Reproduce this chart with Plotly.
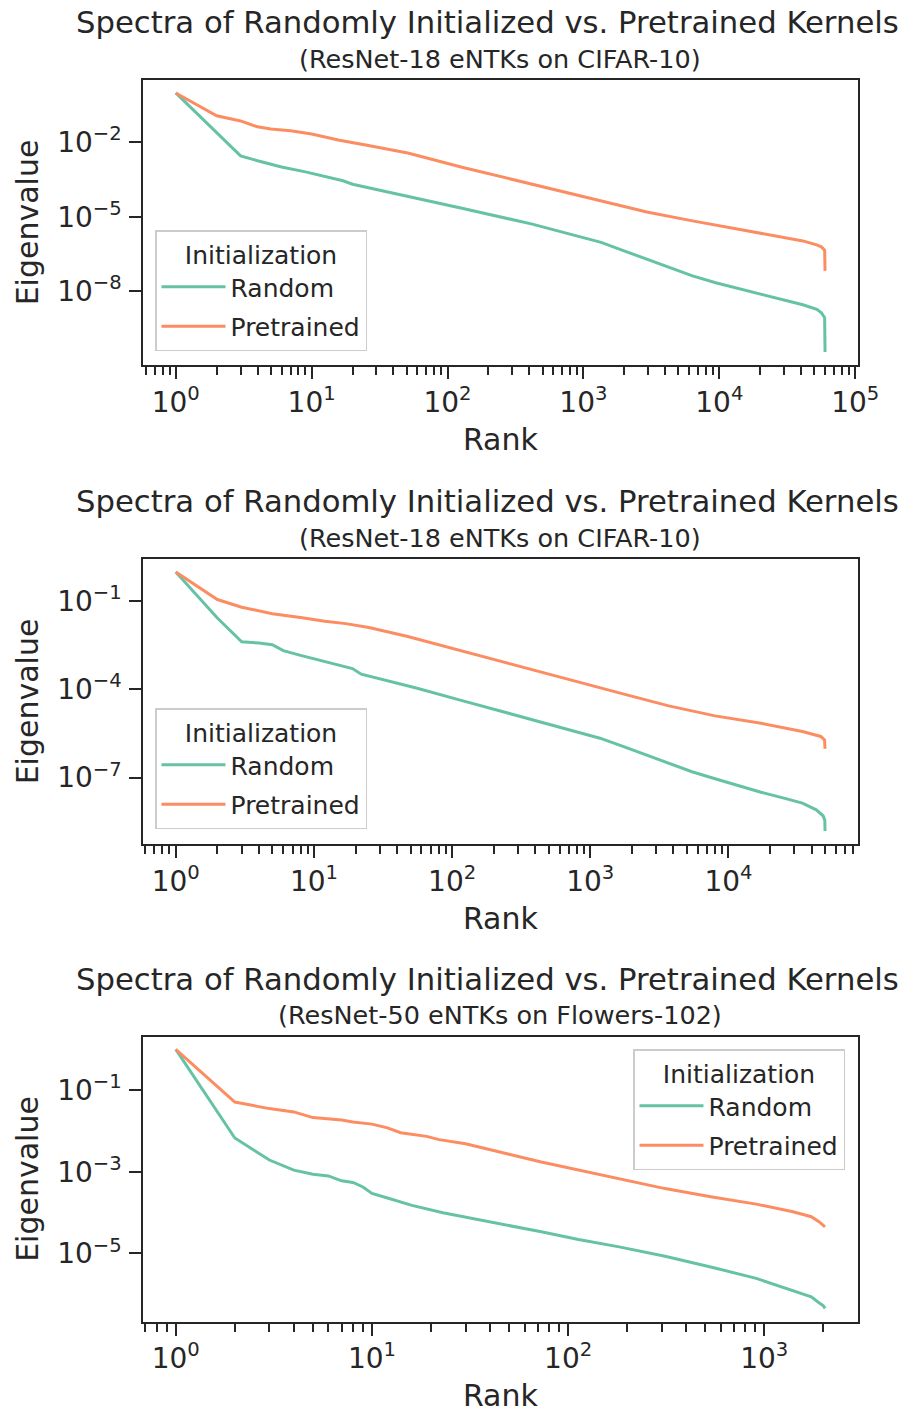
import math
import plotly.graph_objects as go

# ---------------- data ----------------
# Panel 1: ResNet-18 eNTKs on CIFAR-10 (60k)
p1_rank_random = [1, 2, 3, 4, 6, 9, 11, 17, 20, 47, 130, 420, 910, 1350, 1990, 2930, 4320, 6350, 9410,
                  13800, 20500, 30000, 41200, 52200, 56400, 59600, 60000]
p1_eig_random = [1.0, 2.51e-2, 2.88e-3, 1.82e-3, 1.02e-3, 6.46e-4, 4.90e-4, 2.82e-4, 2.04e-4, 7.41e-5,
                 2.14e-5, 5.01e-6, 1.66e-6, 9.12e-7, 4.17e-7, 1.91e-7, 8.91e-8, 4.07e-8, 2.14e-8,
                 1.26e-8, 7.41e-9, 4.37e-9, 2.75e-9, 1.82e-9, 1.32e-9, 8.32e-10, 3.39e-11]
p1_rank_pretrained = [1, 2, 3, 4, 5, 7, 10, 16, 25, 51, 130, 420, 1350, 2930, 6350, 13800, 30000, 41200,
                      52000, 56400, 59600, 60000]
p1_eig_pretrained = [1.0, 1.19e-1, 7.41e-2, 4.27e-2, 3.47e-2, 2.95e-2, 2.19e-2, 1.23e-2, 7.94e-3, 3.72e-3,
                     9.77e-4, 2.04e-4, 4.37e-5, 1.55e-5, 6.76e-6, 3.09e-6, 1.45e-6, 1.05e-6,
                     7.24e-7, 6.03e-7, 4.47e-7, 6.46e-8]

# Panel 2: ResNet-18 eNTKs on CIFAR-10 (50k)
p2_rank_random = [1, 2, 3, 4, 5, 6, 8, 10, 14, 19, 22, 30, 55, 118, 254, 546, 1175, 1725, 2525, 3700,
                  5440, 8000, 11700, 17200, 25200, 34300, 43200, 48400, 49800, 50000]
p2_eig_random = [1.0, 2.69e-2, 4.17e-3, 3.80e-3, 3.31e-3, 2.09e-3, 1.45e-3, 1.12e-3, 7.59e-4, 5.13e-4,
                 3.31e-4, 2.29e-4, 1.12e-4, 4.17e-5, 1.55e-5, 5.89e-6, 2.19e-6, 1.15e-6, 5.89e-7, 3.09e-7,
                 1.58e-7, 9.12e-8, 5.25e-8, 3.16e-8, 2.00e-8, 1.35e-8, 7.94e-9, 5.01e-9, 3.55e-9, 1.51e-9]
p2_rank_pretrained = [1, 2, 3, 5, 8, 12, 17, 25, 47, 101, 254, 800, 1725, 3700, 8000, 17200, 34300, 46600,
                      49600, 50000]
p2_eig_pretrained = [1.0, 1.15e-1, 6.31e-2, 3.80e-2, 2.82e-2, 2.09e-2, 1.74e-2, 1.29e-2, 6.46e-3, 2.45e-3,
                     7.94e-4, 1.86e-4, 7.08e-5, 2.75e-5, 1.26e-5, 7.08e-6, 3.72e-6, 2.51e-6,
                     1.91e-6, 9.55e-7]

# Panel 3: ResNet-50 eNTKs on Flowers-102
p3_rank_random = [1, 2, 3, 4, 5, 6, 7, 8, 9, 10, 12, 16, 23, 39, 46, 73, 113, 182, 312, 533, 910, 1191,
                  1400, 1556, 1736, 1878, 2000, 2040]
p3_eig_random = [1.0, 6.76e-3, 1.95e-3, 1.10e-3, 8.71e-4, 7.94e-4, 6.03e-4, 5.50e-4, 4.27e-4, 2.95e-4,
                 2.29e-4, 1.51e-4, 1.00e-4, 6.17e-5, 5.37e-5, 3.39e-5, 2.19e-5, 1.45e-5, 8.51e-6, 4.68e-6,
                 2.45e-6, 1.62e-6, 1.26e-6, 1.05e-6, 8.71e-7, 6.46e-7, 5.25e-7, 4.47e-7]
p3_rank_pretrained = [1, 2, 3, 4, 5, 6, 7, 8, 10, 12, 14, 19, 22, 30, 39, 50, 73, 113, 182, 312, 533, 910,
                      1400, 1736, 1900, 2000, 2040]
p3_eig_pretrained = [1.0, 5.13e-2, 3.55e-2, 2.95e-2, 2.14e-2, 2.00e-2, 1.86e-2, 1.66e-2, 1.48e-2, 1.20e-2,
                     9.12e-3, 7.41e-3, 6.17e-3, 4.90e-3, 3.55e-3, 2.69e-3, 1.74e-3, 1.10e-3, 6.92e-4, 3.89e-4,
                     2.45e-4, 1.62e-4, 1.05e-4, 7.94e-5, 6.03e-5, 5.01e-5, 4.47e-5]

titles = ["Spectra of Randomly Initialized vs. Pretrained Kernels"] * 3
subtitles = ["(ResNet-18 eNTKs on CIFAR-10)", "(ResNet-18 eNTKs on CIFAR-10)", "(ResNet-50 eNTKs on Flowers-102)"]
series_names = ["Random", "Pretrained"]
legend_title = "Initialization"
x_label = "Rank"
y_label = "Eigenvalue"

p1_xtick_vals = [1, 10, 100, 1000, 10000, 100000]
p1_xtick_text = ["10<sup>0</sup>", "10<sup>1</sup>", "10<sup>2</sup>", "10<sup>3</sup>", "10<sup>4</sup>", "10<sup>5</sup>"]
p2_xtick_vals = [1, 10, 100, 1000, 10000]
p2_xtick_text = ["10<sup>0</sup>", "10<sup>1</sup>", "10<sup>2</sup>", "10<sup>3</sup>", "10<sup>4</sup>"]
p3_xtick_vals = [1, 10, 100, 1000]
p3_xtick_text = ["10<sup>0</sup>", "10<sup>1</sup>", "10<sup>2</sup>", "10<sup>3</sup>"]
p1_ytick_vals = [1e-2, 1e-5, 1e-8]
p1_ytick_text = ["10<sup>\u22122</sup>", "10<sup>\u22125</sup>", "10<sup>\u22128</sup>"]
p2_ytick_vals = [1e-1, 1e-4, 1e-7]
p2_ytick_text = ["10<sup>\u22121</sup>", "10<sup>\u22124</sup>", "10<sup>\u22127</sup>"]
p3_ytick_vals = [1e-1, 1e-3, 1e-5]
p3_ytick_text = ["10<sup>\u22121</sup>", "10<sup>\u22123</sup>", "10<sup>\u22125</sup>"]

# ---------------- styling / layout ----------------
W, H = 907, 1414
INK = "#262626"
COLORS = ["#66c2a5", "#fc8d62"]
FONT = "DejaVu Sans"

PLOT_LEFT, PLOT_RIGHT = 143.3, 857.5
PANEL_TOPS = [80.0, 559.0, 1036.5]
PANEL_H = 285.0


def fx(px):
    return px / W


def fy(py):
    return 1.0 - py / H


panels = [
    dict(random=(p1_rank_random, p1_eig_random), pretrained=(p1_rank_pretrained, p1_eig_pretrained),
         xt=(p1_xtick_vals, p1_xtick_text), yt=(p1_ytick_vals, p1_ytick_text),
         legend=dict(x=fx(155), y=fy(230), xanchor="left")),
    dict(random=(p2_rank_random, p2_eig_random), pretrained=(p2_rank_pretrained, p2_eig_pretrained),
         xt=(p2_xtick_vals, p2_xtick_text), yt=(p2_ytick_vals, p2_ytick_text),
         legend=dict(x=fx(155), y=fy(708), xanchor="left")),
    dict(random=(p3_rank_random, p3_eig_random), pretrained=(p3_rank_pretrained, p3_eig_pretrained),
         xt=(p3_xtick_vals, p3_xtick_text), yt=(p3_ytick_vals, p3_ytick_text),
         legend=dict(x=fx(845), y=fy(1049), xanchor="right")),
]

fig = go.Figure()
annotations = []
layout = dict(
    width=W, height=H,
    margin=dict(l=0, r=0, t=0, b=0),
    paper_bgcolor="white", plot_bgcolor="white",
    font=dict(family=FONT, color=INK, size=25),
    showlegend=True,
)


def log_range(vals_lists):
    lo = min(math.log10(v) for vals in vals_lists for v in vals)
    hi = max(math.log10(v) for vals in vals_lists for v in vals)
    m = 0.05 * (hi - lo)
    return [lo - m, hi + m]


for i, p in enumerate(panels):
    k = i + 1
    xa = "x" if k == 1 else f"x{k}"
    ya = "y" if k == 1 else f"y{k}"
    leg = "legend" if k == 1 else f"legend{k}"
    for j, name in enumerate(series_names):
        ranks, eig = p["random"] if j == 0 else p["pretrained"]
        fig.add_trace(go.Scatter(
            x=ranks, y=eig, mode="lines", name=name,
            line=dict(color=COLORS[j], width=3),
            xaxis=xa, yaxis=ya, legend=leg, legendgroup=f"{k}-{name}",
        ))
    xr = log_range([p["random"][0], p["pretrained"][0]])
    yr = log_range([p["random"][1], p["pretrained"][1]])
    top = PANEL_TOPS[i]
    bottom = top + PANEL_H
    # minor x ticks (2..9 per decade) inside the range
    minor_vals = []
    for dec in range(math.floor(xr[0]) - 1, math.ceil(xr[1]) + 1):
        for m in range(2, 10):
            v = m * 10 ** dec
            if xr[0] <= math.log10(v) <= xr[1]:
                minor_vals.append(v)
    xaxis = dict(
        type="log", range=xr, domain=[fx(PLOT_LEFT), fx(PLOT_RIGHT)],
        anchor=ya, showgrid=False, zeroline=False,
        showline=True, linecolor=INK, linewidth=2, mirror=True,
        ticks="outside", ticklen=12, tickwidth=2, tickcolor=INK,
        tickmode="array", tickvals=p["xt"][0], ticktext=p["xt"][1],
        tickfont=dict(size=28, color=INK, family=FONT),
        ticklabelstandoff=-1,
        minor=dict(ticks="outside", ticklen=8, tickwidth=1.5, tickcolor=INK,
                   tickmode="array", tickvals=minor_vals, showgrid=False),
        title=dict(text=x_label, font=dict(size=30, color=INK, family=FONT), standoff=11),
        automargin=False,
    )
    yaxis = dict(
        type="log", range=yr, domain=[fy(bottom), fy(top)],
        anchor=xa, showgrid=False, zeroline=False,
        showline=True, linecolor=INK, linewidth=2, mirror=True,
        ticks="outside", ticklen=12, tickwidth=2, tickcolor=INK,
        tickmode="array", tickvals=p["yt"][0], ticktext=p["yt"][1],
        tickfont=dict(size=28, color=INK, family=FONT),
        ticklabelstandoff=2,
        title=dict(text=y_label, font=dict(size=30, color=INK, family=FONT), standoff=10),
        automargin=False,
    )
    layout["xaxis" if k == 1 else f"xaxis{k}"] = xaxis
    layout["yaxis" if k == 1 else f"yaxis{k}"] = yaxis
    lg = p["legend"]
    layout[leg] = dict(
        x=lg["x"], y=lg["y"], xanchor=lg["xanchor"], yanchor="top",
        xref="paper", yref="paper",
        bgcolor="rgba(255,255,255,0.8)", bordercolor="#cccccc", borderwidth=1.5,
        font=dict(size=25, color=INK, family=FONT),
        title=dict(text=legend_title, side="top center", font=dict(size=25, color=INK, family=FONT)),
        itemwidth=64, tracegroupgap=4, traceorder="grouped",
    )
    annotations.append(dict(
        text=titles[i], x=fx(487), y=fy(top - 57), xref="paper", yref="paper",
        xanchor="center", yanchor="middle", showarrow=False,
        font=dict(size=30.7, color=INK, family=FONT),
    ))
    annotations.append(dict(
        text=subtitles[i], x=fx(500), y=fy(top - 21), xref="paper", yref="paper",
        xanchor="center", yanchor="middle", showarrow=False,
        font=dict(size=25.5, color=INK, family=FONT),
    ))

layout["annotations"] = annotations
fig.update_layout(**layout)
fig.write_html(
    "out.html",
    config={"displayModeBar": False},
    post_script="document.body.style.margin='0';document.body.style.overflow='hidden';",
)
